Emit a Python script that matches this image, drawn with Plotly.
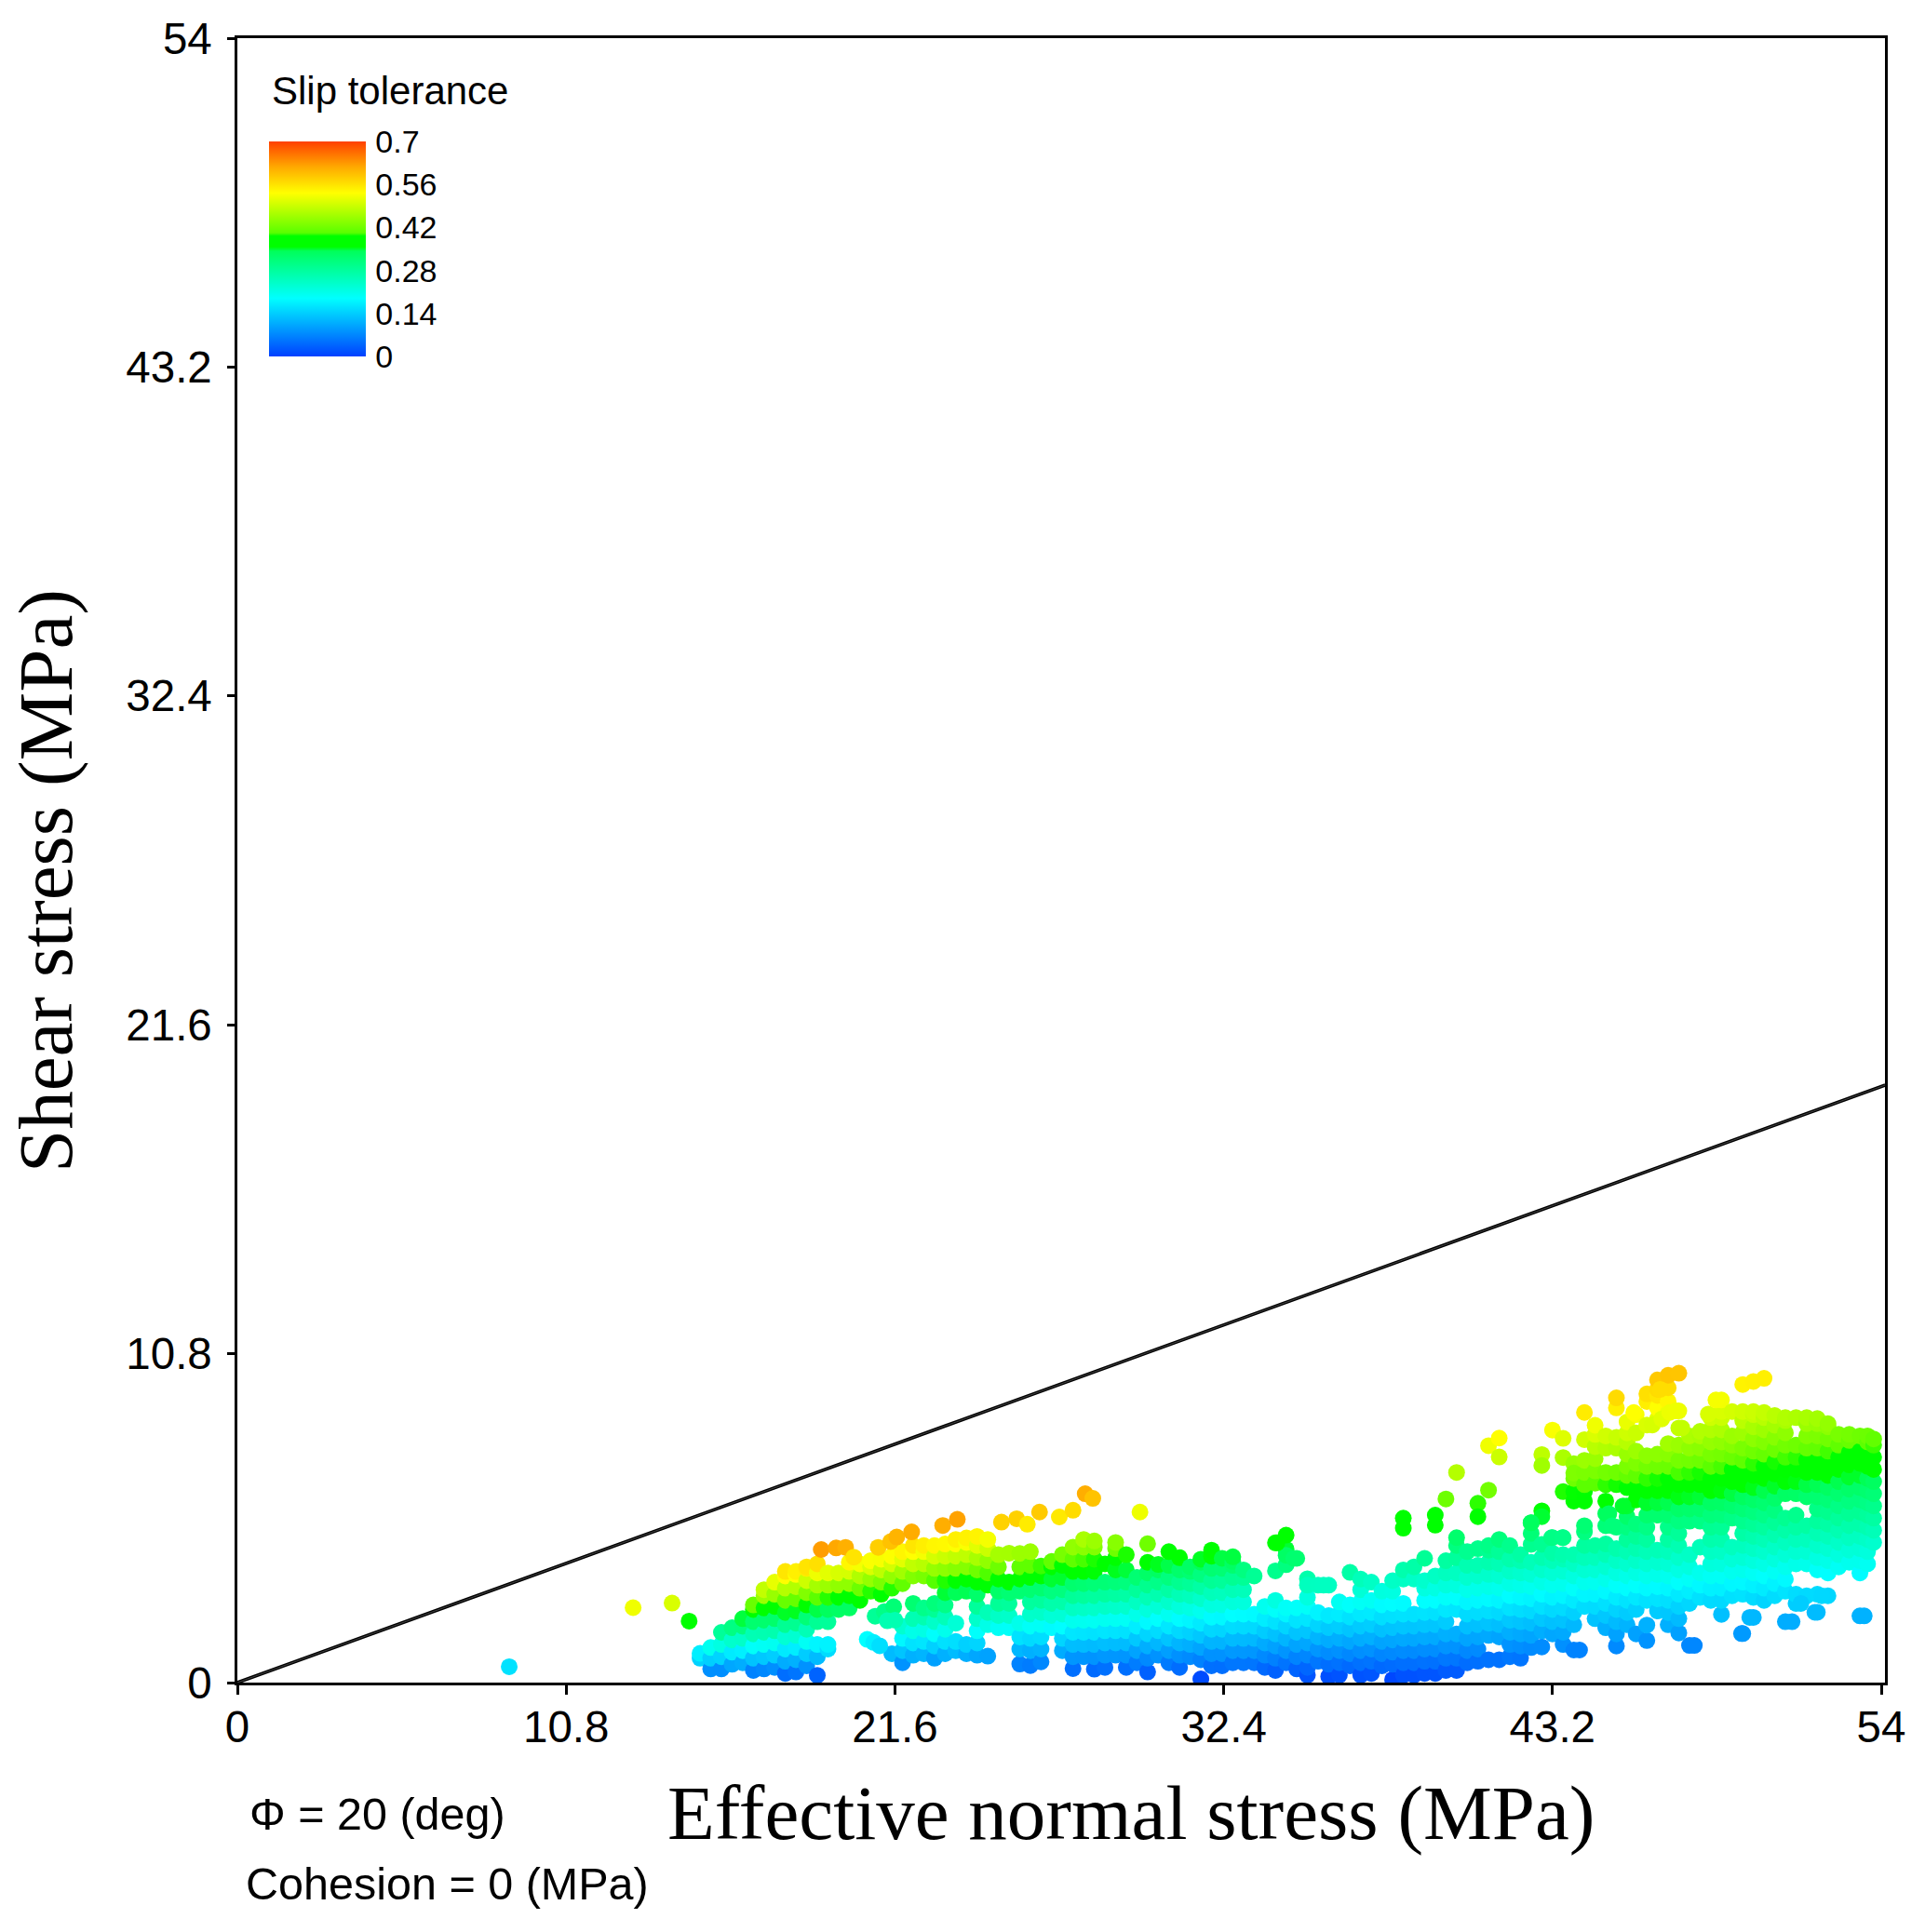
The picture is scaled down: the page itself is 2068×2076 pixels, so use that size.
import math
import plotly.graph_objects as go

friction_angle_deg = 20
sigma_line = [0, 54.13]
tau_line = [0, 19.62]
x_ticks = [0, 10.8, 21.6, 32.4, 43.2, 54]
x_tick_labels = ["0", "10.8", "21.6", "32.4", "43.2", "54"]
y_ticks = [0, 10.8, 21.6, 32.4, 43.2, 54]
y_tick_labels = ["0", "10.8", "21.6", "32.4", "43.2", "54"]
bar_ticks = [0, 0.14, 0.28, 0.42, 0.56, 0.7]
bar_tick_labels = ["0", "0.14", "0.28", "0.42", "0.56", "0.7"]

sigma_columns = [
    15.2, 15.55, 15.9, 16.25, 16.6, 16.95, 17.3, 17.65, 18.0, 18.35, 18.7, 19.05, 19.4, 19.75, 20.1, 20.45,
    20.8, 21.15, 21.5, 21.85, 22.2, 22.55, 22.9, 23.25, 23.6, 23.95, 24.3, 24.65, 25.0, 25.35, 25.7, 26.05,
    26.4, 26.75, 27.1, 27.45, 27.8, 28.15, 28.5, 28.85, 29.2, 29.55, 29.9, 30.25, 30.6, 30.95, 31.3, 31.65,
    32.0, 32.35, 32.7, 33.05, 33.4, 33.75, 34.1, 34.45, 34.8, 35.15, 35.5, 35.85, 36.2, 36.55, 36.9, 37.25,
    37.6, 37.95, 38.3, 38.65, 39.0, 39.35, 39.7, 40.05, 40.4, 40.75, 41.1, 41.45, 41.8, 42.15, 42.5, 42.85,
    43.2, 43.55, 43.9, 44.25, 44.6, 44.95, 45.3, 45.65, 45.95, 46.3, 46.65, 47.0, 47.35, 47.7, 48.05, 48.4,
    48.75, 49.1, 49.45, 49.8, 50.15, 50.5, 50.85, 51.2, 51.55, 51.9, 52.25, 52.6, 52.95, 53.3, 53.55, 53.75,
]
tau_columns = [
    [0.8, 0.96],
    [0.45, 0.8, 1.15],
    [0.45, 0.85, 1.25, 1.65],
    [0.6, 1.0, 1.4, 1.8],
    [0.65, 1.05, 1.45, 1.85, 2.1],
    [0.4, 0.8, 1.2, 1.6, 2.0, 2.4, 2.55],
    [0.45, 0.85, 1.25, 1.65, 2.05, 2.45, 2.85, 3.05],
    [0.5, 0.9, 1.3, 1.7, 2.1, 2.5, 2.9, 3.3],
    [0.3, 0.7, 1.1, 1.5, 1.9, 2.3, 2.7, 3.1, 3.5, 3.65],
    [0.35, 0.75, 1.15, 1.55, 1.95, 2.35, 2.75, 3.15, 3.55, 3.65],
    [0.55, 0.95, 1.35, 1.75, 2.15, 2.55, 2.95, 3.35, 3.75, 3.8],
    [0.24, 0.85, 1.25, 2.0, 2.4, 2.8, 3.2, 3.6, 3.9],
    [1.1, 1.25, 2.0, 2.4, 2.8, 3.2, 3.6],
    [2.4, 2.8, 3.2, 3.6],
    [2.45, 2.85, 3.25, 3.65, 3.95],
    [2.7, 3.1, 3.5, 3.9],
    [3.0, 3.4, 3.8, 4.0],
    [2.9, 3.3, 3.7, 4.05],
    [0.95, 3.1, 3.5, 3.9, 4.15],
    [0.65, 1.05, 1.45, 1.85, 3.25, 3.65, 4.05, 4.3],
    [0.9, 1.3, 1.7, 2.1, 2.6, 3.5, 3.9, 4.3, 4.5],
    [0.95, 1.35, 1.75, 2.15, 2.45, 3.5, 3.9, 4.3, 4.5],
    [0.8, 1.2, 1.6, 2.0, 2.4, 2.6, 3.35, 3.75, 4.15, 4.5],
    [0.95, 1.35, 1.75, 2.15, 2.55, 2.95, 3.35, 3.75, 4.15, 4.55],
    [1.05, 1.35, 1.95, 2.95, 3.35, 3.75, 4.15, 4.55, 4.7],
    [0.95, 1.25, 3.0, 3.4, 3.8, 4.2, 4.6, 4.75],
    [0.9, 1.3, 1.7, 2.1, 2.5, 2.9, 3.3, 3.7, 4.1, 4.5, 4.8],
    [0.87, 1.9, 2.3, 3.2, 3.6, 4.0, 4.4, 4.7],
    [1.8, 2.2, 2.6, 3.0, 3.4, 3.8, 4.2],
    [1.8, 2.2, 2.6, 2.95, 3.3, 4.25],
    [0.61, 1.1, 1.5, 1.95, 3.0, 3.4, 3.8, 4.24],
    [0.56, 1.05, 1.45, 1.85, 2.25, 2.65, 3.05, 3.45, 3.85, 4.3],
    [0.68, 1.1, 1.5, 1.9, 2.3, 2.7, 3.1, 3.5, 3.83],
    [1.8, 2.2, 2.6, 3.0, 3.4, 3.8, 3.98],
    [1.05, 1.45, 1.85, 2.25, 2.65, 3.05, 3.45, 3.85, 4.2],
    [0.46, 0.85, 1.25, 1.65, 2.05, 2.45, 2.85, 3.25, 3.65, 4.05, 4.45],
    [0.85, 1.25, 1.65, 2.05, 2.45, 2.85, 3.25, 3.65, 4.05, 4.45, 4.7],
    [0.44, 0.85, 1.25, 1.65, 2.05, 2.45, 2.85, 3.25, 3.65, 4.05, 4.45, 4.65],
    [0.5, 0.9, 1.3, 1.7, 2.1, 2.5, 2.9, 3.3, 3.9],
    [0.9, 1.3, 1.7, 2.1, 2.5, 2.9, 3.3, 3.7, 4.1, 4.4, 4.6],
    [0.5, 0.9, 1.3, 1.7, 2.1, 2.5, 2.9, 3.3, 3.7, 4.2],
    [0.65, 1.05, 1.45, 1.85, 2.25, 2.65, 3.05, 3.45],
    [0.35, 0.8, 1.2, 1.6, 2.0, 2.4, 2.8, 3.2, 3.6, 3.95, 4.56],
    [0.9, 1.3, 1.7, 2.1, 2.5, 2.9, 3.3, 3.7, 3.88],
    [0.65, 1.05, 1.45, 1.85, 2.25, 2.65, 3.05, 3.45, 3.85, 4.3],
    [0.5, 0.9, 1.3, 1.7, 2.1, 2.5, 2.9, 3.3, 3.7, 4.1],
    [0.85, 1.25, 1.65, 2.05, 2.45, 2.85, 3.25, 3.65, 3.8],
    [0.12, 0.75, 1.15, 1.55, 1.95, 2.35, 2.75, 3.15, 3.55, 3.95, 4.05],
    [0.55, 0.95, 1.35, 1.75, 2.15, 2.55, 2.95, 3.35, 3.75, 4.15, 4.35],
    [0.55, 0.95, 1.35, 1.75, 2.15, 2.55, 2.95, 3.35, 3.75, 4.08],
    [0.65, 1.05, 1.45, 1.85, 2.25, 2.65, 3.05, 3.45, 3.85, 3.98, 4.13],
    [0.65, 1.05, 1.45, 1.85, 2.25, 2.65, 3.05, 3.45, 3.7],
    [0.65, 1.05, 1.45, 1.85, 2.25, 3.5],
    [0.5, 0.9, 1.3, 1.7, 2.1, 2.5],
    [0.4, 0.8, 1.2, 1.6, 2.0, 2.4, 2.7, 3.67, 4.59],
    [0.65, 1.05, 1.45, 1.85, 2.25, 2.45, 3.87, 4.38, 4.18, 4.84],
    [0.45, 0.85, 1.25, 1.65, 2.05, 2.45, 4.08],
    [0.25, 0.5, 0.9, 1.3, 1.7, 2.1, 2.5, 2.8, 3.41, 3.2],
    [0.7, 1.1, 1.5, 1.9, 2.3, 3.2],
    [0.2, 0.6, 1.0, 1.4, 1.8, 2.2, 3.2],
    [0.25, 0.65, 1.05, 1.45, 1.85, 2.25, 2.65],
    [0.55, 0.95, 1.35, 1.75, 2.15, 2.55, 3.62],
    [0.25, 0.65, 1.05, 1.45, 1.85, 2.25, 2.65, 3.05, 3.4],
    [0.3, 0.7, 1.1, 1.5, 1.9, 2.3, 2.7, 3.3],
    [0.55, 0.95, 1.35, 1.75, 2.15, 2.55, 3.0],
    [0.1, 0.6, 1.0, 1.4, 1.8, 2.2, 2.6, 3.0, 3.35],
    [0.25, 0.65, 1.05, 1.45, 1.85, 2.25, 2.6, 3.4, 3.7, 5.4, 5.07],
    [0.25, 0.65, 1.05, 1.45, 1.85, 2.25, 3.4, 3.8],
    [0.3, 0.7, 1.1, 1.5, 1.9, 2.3, 2.7, 3.1, 3.35, 4.08],
    [0.3, 0.7, 1.1, 1.5, 1.9, 2.3, 2.7, 3.1, 3.5, 5.5, 5.17],
    [0.4, 0.8, 1.2, 1.6, 2.0, 2.4, 2.8, 3.2, 3.6, 4.0, 6.03],
    [0.4, 0.8, 1.2, 1.6, 2.4, 2.8, 3.2, 3.6, 4.1, 4.5, 4.76, 6.9],
    [0.65, 1.05, 1.45, 1.85, 2.25, 2.65, 3.05, 3.45, 3.85, 4.3],
    [0.7, 1.1, 1.5, 1.9, 2.3, 2.7, 3.1, 3.5, 3.85, 4.4, 5.89, 5.45],
    [0.75, 1.55, 1.95, 2.35, 2.75, 3.15, 3.55, 3.95, 4.35, 4.5, 6.32, 7.78],
    [0.75, 1.5, 1.9, 2.3, 2.7, 3.1, 3.5, 3.9, 4.3, 4.7, 8.03, 7.41],
    [0.85, 1.25, 1.65, 2.05, 2.45, 2.85, 3.25, 3.65, 4.05, 4.5],
    [0.8, 1.2, 1.6, 2.0, 2.4, 2.8, 3.2, 3.6, 4.0, 4.2],
    [1.15, 1.55, 1.95, 2.35, 2.75, 3.15, 3.55, 3.95, 4.54, 4.9, 5.25],
    [1.17, 1.7, 2.1, 2.5, 2.9, 3.3, 3.7, 4.1, 4.54, 5.64, 5.45, 7.49, 7.13],
    [1.6, 2.0, 2.4, 2.8, 3.2, 3.6, 4.0, 4.25, 4.76, 8.29],
    [1.25, 1.65, 2.05, 2.45, 2.85, 3.25, 3.65, 4.05, 4.2, 4.76, 6.27, 7.39, 8.02],
    [1.07, 1.9, 2.3, 2.7, 3.1, 3.5, 3.9, 4.2, 5.96, 6.27, 6.7, 7.19, 6.88],
    [2.5, 2.9, 3.3, 3.7, 4.1, 4.5, 4.95, 5.15, 5.96, 6.27, 6.5, 6.9, 7.3, 7.98, 8.87],
    [2.1, 2.5, 2.9, 3.3, 3.7, 4.1, 4.5, 6.55, 6.95, 7.35, 7.75, 8.15, 8.45],
    [1.8, 2.2, 2.6, 3.0, 3.4, 3.8, 4.2, 4.55, 5.15, 5.55, 5.96, 6.5, 6.9, 7.7, 8.1],
    [1.2, 1.6, 2.0, 2.4, 2.8, 3.2, 3.6, 4.0, 4.4, 5.1, 6.5, 6.9, 7.7, 8.05, 9.02, 9.35],
    [1.9, 2.3, 2.7, 3.1, 3.5, 3.9, 4.3, 4.7, 5.1, 5.45, 5.8, 6.4, 6.8, 7.1, 7.5, 7.9, 8.2, 8.56],
    [1.6, 2.4, 2.8, 3.2, 3.6, 4.0, 4.4, 4.8, 5.2, 6.0, 6.4, 6.8, 7.2, 7.6, 8.2, 8.8],
    [1.38, 1.89, 2.7, 3.1, 3.5, 3.9, 4.3, 4.7, 5.1, 5.5, 5.9, 6.3, 6.7, 7.1, 7.45, 8.46, 9.23, 9.48],
    [2.35, 2.75, 3.15, 3.55, 3.95, 4.35, 5.5, 5.9, 6.3, 6.7, 7.1, 7.5, 8.66, 9.02, 9.43, 9.63, 9.94],
    [1.9, 2.3, 2.7, 3.1, 3.5, 3.9, 4.3, 4.7, 5.1, 5.5, 5.9, 6.3, 6.7, 7.1, 7.5, 7.85, 8.87, 9.23, 9.68, 10.09],
    [1.63, 2.1, 2.5, 2.9, 3.3, 3.7, 4.1, 4.5, 4.9, 5.3, 5.7, 6.1, 6.5, 6.9, 7.3, 7.8, 8.36, 8.92, 10.16],
    [1.22, 2.6, 3.0, 3.4, 3.8, 4.2, 5.3, 5.7, 6.1, 6.5, 6.9, 7.3, 7.7, 8.1],
    [2.8, 3.2, 3.6, 4.45, 5.3, 5.7, 6.1, 6.5, 6.9, 7.3, 7.7, 8.1, 8.25],
    [2.7, 3.1, 3.5, 3.9, 4.3, 4.7, 5.1, 5.5, 5.9, 6.3, 6.7, 7.1, 7.5, 7.9, 8.3, 8.7],
    [2.24, 2.7, 3.1, 3.5, 3.9, 4.3, 4.7, 5.1, 5.5, 5.9, 6.3, 6.7, 7.1, 7.5, 7.9, 8.3, 8.7, 8.9, 9.28],
    [2.85, 3.25, 3.65, 4.05, 4.45, 5.4, 5.8, 6.2, 6.6, 7.0, 7.4, 7.8, 8.1, 8.9],
    [1.61, 2.9, 3.3, 3.7, 4.1, 4.5, 4.9, 5.3, 5.7, 6.1, 6.5, 6.9, 7.3, 7.7, 8.2, 8.6, 8.9, 9.79],
    [2.14, 2.8, 3.2, 3.6, 4.0, 4.4, 4.8, 5.2, 5.6, 6.0, 6.4, 6.8, 7.2, 7.6, 8.0, 8.4, 8.8, 8.9, 9.89],
    [2.7, 3.1, 3.5, 3.9, 4.3, 4.7, 5.1, 5.5, 5.9, 6.3, 6.7, 7.1, 7.5, 7.9, 8.3, 8.7, 8.87, 9.99],
    [2.85, 3.25, 3.65, 4.05, 4.45, 4.85, 5.25, 5.65, 6.05, 6.45, 6.85, 7.25, 7.65, 8.05, 8.45, 8.77],
    [2.0, 3.0, 3.4, 3.8, 4.2, 4.6, 5.0, 5.4, 6.2, 6.6, 7.0, 7.4, 7.8, 8.2, 8.6, 8.7],
    [2.6, 2.9, 3.9, 4.3, 4.7, 5.1, 5.5, 6.2, 6.6, 7.0, 7.4, 7.8, 8.7],
    [2.85, 3.9, 4.3, 4.7, 5.15, 6.1, 6.5, 6.9, 7.3, 7.7, 8.1, 8.5, 8.7],
    [2.31, 2.9, 3.7, 4.1, 4.5, 4.9, 5.3, 5.7, 6.1, 6.5, 6.9, 7.3, 7.7, 8.1, 8.5, 8.67],
    [2.85, 3.6, 4.0, 4.4, 4.8, 5.2, 5.6, 6.0, 6.4, 6.8, 7.2, 7.6, 8.0, 8.4, 8.5],
    [3.8, 4.2, 4.6, 5.0, 5.4, 5.8, 6.2, 6.6, 7.0, 7.4, 7.8, 8.15],
    [3.95, 4.35, 4.75, 5.15, 5.55, 5.95, 6.35, 6.75, 7.15, 7.55, 7.95, 8.15],
    [3.6, 4.0, 4.4, 4.8, 5.2, 5.6, 6.0, 6.4, 6.8, 7.2, 7.6, 8.1, 2.19],
    [3.9, 4.3, 4.7, 5.1, 5.5, 5.9, 6.3, 6.7, 7.1, 7.5, 7.9, 8.1],
    [4.6, 5.0, 5.4, 5.8, 6.2, 6.6, 7.0, 7.4, 7.8, 8.0],
]

# Separate points lying between the columns above.
sigma_scattered = [
    8.93, 13.0, 14.28, 14.84, 19.18, 19.67, 19.98, 20.25, 21.05, 21.46, 21.66, 22.15, 23.17, 23.65,
    20.69, 20.9, 21.1, 20.95, 21.25, 21.56, 21.35, 21.6, 25.1, 25.6, 25.95, 26.35, 27.0, 27.45,
    27.85, 28.1, 29.65, 34.15, 34.7, 35.68, 42.5, 43.17, 43.53, 44.09, 45.05, 45.16, 45.52, 45.87,
    46.48, 46.79, 46.74, 47.05, 47.25, 47.45, 47.86, 48.32, 48.57, 49.41, 49.68, 51.07, 51.36, 51.82, 52.04, 53.44,
]
tau_scattered = [
    0.52, 2.46, 2.61, 2.02, 4.37, 4.42, 4.44, 4.12, 4.44, 4.63, 4.78, 4.95, 5.16, 5.36,
    1.42, 1.32, 1.21, 2.18, 2.33, 2.49, 2.03, 2.05, 5.27, 5.38, 5.2, 5.6, 5.44, 5.66,
    6.2, 6.05, 5.6, 4.59, 4.08, 3.2, 5.25, 4.76, 4.76, 1.07, 5.55, 5.15, 5.8, 8.87,
    8.46, 8.66, 9.63, 8.87, 8.92, 8.36, 1.22, 8.82, 9.28, 1.61, 2.14, 2.0, 2.6, 2.31, 2.85, 2.19,
]

sigma_points = [s for s, col in zip(sigma_columns, tau_columns) for _ in col] + sigma_scattered
tau_points = [t for col in tau_columns for t in col] + tau_scattered
friction_coefficient = math.tan(math.radians(friction_angle_deg))
# Slip tolerance of a fracture: shear stress over frictional strength.
slip_tolerance = [t / (s * friction_coefficient) for s, t in zip(sigma_points, tau_points)]

colorscale = [
    [0.0, "rgb(0,64,255)"], [0.27, "rgb(0,255,255)"], [0.49, "rgb(0,255,90)"], [0.51, "rgb(0,255,0)"],
    [0.56, "rgb(0,255,0)"], [0.575, "rgb(90,255,0)"], [0.76, "rgb(255,255,0)"], [0.88, "rgb(255,170,0)"],
    [1.0, "rgb(255,64,0)"],
]

W, H = 2068, 2076
L, R, T, B = 255, 2025, 41, 1808
def fx(px):
    return (px - L) / (R - L)
def fy(py):
    return (B - py) / (B - T)

fig = go.Figure()
fig.add_trace(go.Scatter(
    x=sigma_points, y=tau_points, mode="markers", showlegend=False,
    marker=dict(
        size=18, color=slip_tolerance, cmin=0, cmax=0.7, colorscale=colorscale, line=dict(width=0),
        colorbar=dict(
            x=fx(289), xanchor="left", y=fy(152), yanchor="top",
            lenmode="pixels", len=231, thicknessmode="pixels", thickness=104,
            xpad=0, ypad=0, outlinewidth=0, borderwidth=0,
            ticks="outside", ticklen=4, tickcolor="rgba(0,0,0,0)", ticklabelposition="outside",
            tickmode="array", tickvals=bar_ticks, ticktext=bar_tick_labels,
            tickfont=dict(family="Liberation Sans", size=34, color="black"),
        ),
    ),
))
fig.add_trace(go.Scatter(x=sigma_line, y=tau_line, mode="lines", showlegend=False,
                         line=dict(color="black", width=3.6)))
fig.add_trace(go.Scatter(x=sigma_line, y=tau_line, mode="lines", showlegend=False,
                         line=dict(color="#888888", width=0.5)))

axis_font = dict(family="Liberation Sans", size=47.5, color="black")
fig.update_xaxes(range=[0, 54 * (R - L) / 1766], tickmode="array", tickvals=x_ticks, ticktext=x_tick_labels,
                 ticks="outside", ticklen=10, tickwidth=2.5, tickcolor="black", tickfont=axis_font,
                 showgrid=False, zeroline=False, showline=True, linecolor="black", linewidth=2.5, mirror=True,
                 ticklabelstandoff=-6)
fig.update_yaxes(range=[0, 54], tickmode="array", tickvals=y_ticks, ticktext=y_tick_labels,
                 ticks="outside", ticklen=8, tickwidth=2.5, tickcolor="black", tickfont=axis_font,
                 showgrid=False, zeroline=False, showline=True, linecolor="black", linewidth=2.5, mirror=True,
                 ticklabelstandoff=7)

serif = dict(family="Liberation Serif", size=83, color="black")
sans = dict(family="Liberation Sans", size=48.5, color="black")
fig.update_layout(
    width=W, height=H, autosize=False, paper_bgcolor="white", plot_bgcolor="white",
    margin=dict(l=L, r=W - R, t=T, b=H - B, pad=0),
    annotations=[
        dict(text="Effective normal stress (MPa)", x=fx(1215), y=fy(1948), xref="paper", yref="paper",
             xanchor="center", yanchor="middle", showarrow=False, font=serif),
        dict(text="Shear stress (MPa)", x=fx(49), y=fy(947), xref="paper", yref="paper",
             xanchor="center", yanchor="middle", showarrow=False, font=serif, textangle=-90),
        dict(text="Slip tolerance", x=fx(290), y=fy(98), xref="paper", yref="paper",
             xanchor="left", yanchor="middle", showarrow=False, font=dict(family="Liberation Sans", size=42, color="black")),
        dict(text="Φ = 20 (deg)", x=fx(266), y=fy(1949), xref="paper", yref="paper",
             xanchor="left", yanchor="middle", showarrow=False, font=sans),
        dict(text="Cohesion = 0 (MPa)", x=fx(262), y=fy(2024), xref="paper", yref="paper",
             xanchor="left", yanchor="middle", showarrow=False, font=sans),
    ],
)
fig.write_html("out.html", post_script="document.body.style.margin='0';",
               config={"displayModeBar": False})
